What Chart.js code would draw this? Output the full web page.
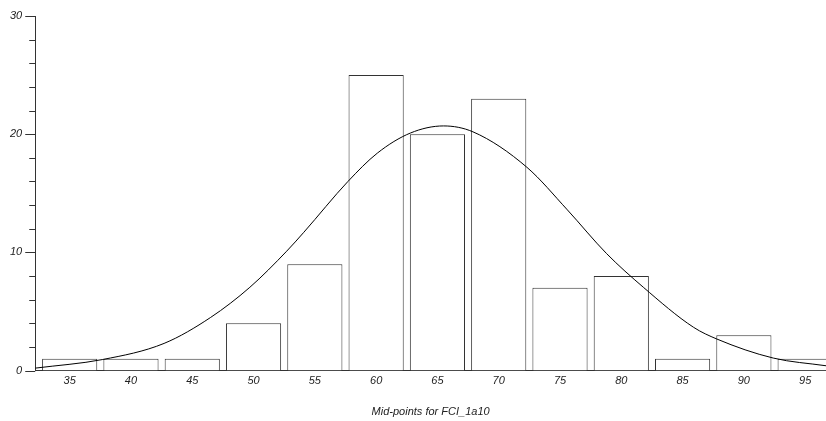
<!DOCTYPE html>
<html>
<head>
<meta charset="utf-8">
<title>Mid-points for FCI_1a10</title>
<script src="https://cdn.jsdelivr.net/npm/chart.js@4/dist/chart.umd.min.js"></script>
<style>
    html, body { margin: 0; padding: 0; background: #fff; }
    #wrap { width: 826px; height: 421px; }
</style>
</head>
<body>
<div id="wrap"><canvas id="histChart"></canvas></div>
<script>
// =========================
// DATA
// =========================
const midPoints = [35, 40, 45, 50, 55, 60, 65, 70, 75, 80, 85, 90, 95];
const counts = [1, 1, 1, 4, 9, 25, 20, 23, 7, 8, 1, 3, 1];

// normal curve
const curveX = [32.2, 37.7, 42.7, 46.5, 49.7, 52.7, 54.1, 57.7, 60.1, 62.8, 65.5, 67.9, 72.3, 75.6, 78.8, 81.8, 85.9, 87.8, 92.4, 96.7];
const curveY = [0.21, 0.94, 2.3, 4.5, 7.05, 10.1, 11.7, 16.0, 18.4, 20.1, 20.7, 20.2, 17.2, 13.6, 9.9, 7.05, 3.66, 2.67, 1.06, 0.41];

const yTicks = [0, 10, 20, 30];
const xTitle = "Mid-points for FCI_1a10";

const AXIS = "#333";
const FONT = { family: "'Liberation Sans', Arial, sans-serif", size: 11, style: "italic" };

// =========================
// Y TICK MARKS (long on labelled ticks)
// =========================
const yTickMarks = {
    id: "yTickMarks",
    afterDraw(chart) {
        const y = chart.scales.y;
        const ctx = chart.ctx;
        ctx.save();
        ctx.strokeStyle = AXIS;
        ctx.lineWidth = 1;
        y.ticks.forEach(t => {
            const py = Math.round(y.getPixelForValue(t.value)) + 0.5;
            const len = yTicks.includes(t.value) ? 10 : 6;
            ctx.beginPath();
            ctx.moveTo(y.right - len, py);
            ctx.lineTo(y.right, py);
            ctx.stroke();
        });
        ctx.restore();
    }
};

// =========================
// CHART
// =========================
const ctx = document.getElementById("histChart").getContext("2d");

new Chart(ctx, {
    data: {
        datasets: [
            {
                type: "line",
                data: curveX.map((x, i) => ({ x: x, y: curveY[i] })),
                borderColor: "#000",
                borderWidth: 1,
                pointRadius: 0,
                cubicInterpolationMode: "monotone",
                fill: false,
                order: 0
            },
            {
                type: "bar",
                data: midPoints.map((m, i) => ({ x: m, y: counts[i] })),
                backgroundColor: "#fff",
                borderColor: AXIS,
                borderWidth: 1,
                categoryPercentage: 1,
                barPercentage: 0.9,
                order: 1
            }
        ]
    },
    options: {
        responsive: true,
        maintainAspectRatio: false,
        animation: false,
        events: [],
        layout: { padding: { left: -3, top: 16, right: 0, bottom: 0 } },
        plugins: {
            legend: { display: false },
            tooltip: { enabled: false }
        },
        scales: {
            x: {
                type: "linear",
                offset: false,
                min: 32.19,
                max: 96.7,
                afterBuildTicks: (scale) => {
                    scale.ticks = midPoints.map(v => ({ value: v }));
                },
                grid: { display: false, drawTicks: false },
                border: { display: true, color: AXIS, width: 1 },
                ticks: {
                    color: "#222",
                    font: FONT,
                    padding: 4,
                    maxRotation: 0,
                    autoSkip: false
                },
                title: {
                    display: true,
                    text: xTitle,
                    color: "#222",
                    font: FONT,
                    padding: { top: 14, bottom: 2 }
                }
            },
            y: {
                min: 0,
                max: 30,
                afterFit: (scale) => {
                    // let the layout padding alone decide the top edge
                    scale.paddingTop = 0;
                },
                grid: { display: false, drawTicks: false },
                border: { display: true, color: AXIS, width: 1 },
                ticks: {
                    stepSize: 2,
                    color: "#222",
                    font: FONT,
                    padding: 13,
                    callback: (v) => yTicks.includes(v) ? String(v) : ""
                }
            }
        }
    },
    plugins: [yTickMarks]
});
</script>
</body>
</html>
